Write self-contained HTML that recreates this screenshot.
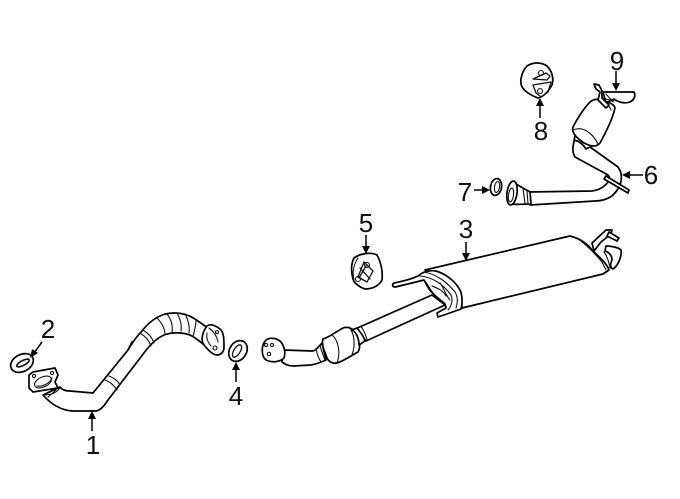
<!DOCTYPE html>
<html>
<head>
<meta charset="utf-8">
<style>
html,body{margin:0;padding:0;background:#fff}
svg{display:block;filter:blur(.3px)}
text{font-family:"Liberation Sans",sans-serif;font-size:26px;fill:#111;text-anchor:middle}
.o{fill:#fff;stroke:#000;stroke-width:1.7;stroke-linejoin:round;stroke-linecap:round}
.t{fill:none;stroke:#111;stroke-width:1.1;stroke-linecap:round;stroke-linejoin:round}
.a{fill:none;stroke:#000;stroke-width:1.5}
.h{fill:#000;stroke:none}
</style>
</head>
<body>
<svg width="680" height="499" viewBox="0 0 680 499" xmlns="http://www.w3.org/2000/svg">
<rect width="680" height="499" fill="#fff"/>

<!-- Part 1 -->
<path class="o" d="M128 350l4-8 4-1 1 4-5 7z"/>
<path class="o" d="M60 387C62 390 65 391 70 391L93 393L128 350C132 343 137 336 142 331C148 323 156 317 165 314C175 312 186 313 195 319L208 328L210 350C204 345 199 340 192 336C184 332 172 332 164 335C157 338 152 343 147 349L108 400C104 406 101 410 96 411L72 411C60 410 50 403 43 395Z"/>
<path class="t" d="M105 380C110 382 114 385 117 390M109 376C114 378 118 381 120 385"/>
<path class="t" d="M140 333C145 336 149 340 151 346M143 330C148 333 152 337 154 343"/>
<path class="t" d="M157 318C162 323 165 329 165 335M167 314C171 319 173 326 172 333M177 313C180 318 182 325 181 331M185 314C188 319 190 327 189 333"/>
<path class="t" d="M196 320C196 326 194 332 193 337"/>
<path class="t" d="M60 387C58 392 52 395 43 395M56 390L48 397"/>
<path class="o" d="M207 326C211 323 216 326 220 329C224 332 224 340 224 347C224 352 221 355 217 355C213 355 208 350 204 345C200 340 203 331 207 326Z"/>
<path class="t" d="M209 328C213 331 217 336 218 342M207 333C206 338 208 343 211 346"/>
<circle class="t" cx="215" cy="348" r="2"/><circle class="t" cx="217" cy="332" r="1.5"/>
<path class="o" d="M29 375L33 372L55 368L58 375L55 382L58 388L33 392L29 388Z"/>
<ellipse class="t" cx="43" cy="382" rx="9" ry="5" transform="rotate(-25 43 382)"/>
<path class="t" d="M37 386C43 387 50 383 52 378"/>
<circle class="t" cx="34" cy="376" r="1.6"/><circle class="t" cx="52" cy="373" r="1.6"/>

<!-- Part 2 gasket -->
<ellipse class="o" cx="22" cy="363" rx="12" ry="8.5" transform="rotate(-28 22 363)"/>
<ellipse class="t" cx="23" cy="363" rx="7" ry="2.4" transform="rotate(-28 23 363)" style="stroke-width:1.6"/>

<!-- Part 4 gasket -->
<ellipse class="o" cx="238" cy="351" rx="8.5" ry="11" transform="rotate(32 238 351)"/>
<ellipse class="t" cx="237" cy="351" rx="3.2" ry="7" transform="rotate(32 237 351)" style="stroke-width:1.3"/>

<!-- Part 3 muffler -->
<path class="o" d="M425 270L570 236C578 238 586 242 592 250C598 256 606 262 609 270L603 274L462 308C462 296 452 282 443 278C436 274 430 272 425 270Z"/>
<path class="t" d="M570 236L577 238C584 243 592 250 602 262L606 270"/>
<path class="o" d="M592 243L606 230L612 230L611 234L601 242L594 251Z"/>
<path class="o" d="M609 232L619 238L617 241L607 236Z"/>
<path class="o" d="M606 246C610 246 618 247 621 250C622 256 618 266 613 269C610 268 610 264 612 260C612 254 608 252 605 251Z"/>
<path class="t" d="M604 252C607 256 609 262 610 268"/>

<!-- Inlet pipe and cat -->
<path class="o" d="M284 350L312 351C316 351 319 346 322 343L326 360C321 362 317 364 311 365L293 366C288 366 285 364 282 362Z"/>
<path class="t" d="M316 349C317 354 319 359 321 362M320 345C321 350 323 355 325 360"/>
<path class="o" d="M266 340C270 337 277 338 281 342C284 346 286 352 284 358C280 362 272 363 266 360C261 356 261 345 266 340Z"/>
<circle class="t" cx="266" cy="345" r="1.6"/><circle class="t" cx="272" cy="345" r="1.6"/><circle class="t" cx="269" cy="354" r="1.7"/>
<path class="o" d="M355 329L432 295L445 305L366 341Z"/>
<path class="o" d="M323 339C330 337 337 331 343 328C348 326 353 329 356 332C360 338 361 347 358 352C352 355 344 361 337 363C333 364 329 362 327 358C325 352 321 345 323 339Z"/>
<path class="t" d="M332 335C338 340 341 352 337 363M349 327C354 333 356 344 352 355"/>
<path class="o" d="M357 328C360 332 364 336 365 341L359 345C359 338 356 332 352 330Z"/>
<path class="t" d="M361 326C364 331 366 335 367 340"/>

<!-- Muffler inlet cap -->
<path class="o" d="M394 283C404 281 412 279 418 276C424 271 430 270 436 271C446 274 455 281 460 290C463 296 462 306 461 309L444 315L438 317L437 313L446 308L445 304C441 300 434 296 429 289L424 280C416 282 404 285 395 287C392 287 392 284 394 283Z"/>
<path class="t" d="M424 272C436 274 447 282 455 292C458 297 458 302 456 308M420 276C432 277 443 284 451 295C453 300 452 305 448 310"/>
<path class="t" d="M424 280C428 284 430 290 434 294M432 286C436 288 442 289 446 296M440 283C444 288 446 296 450 300"/>

<!-- Part 5 mount -->
<path class="o" d="M354 258C361 253 371 252 377 255C381 262 383 272 382 280C379 286 372 289 365 289C359 287 354 283 353 279C351 272 351 263 354 258Z"/>
<path class="t" d="M358 258C354 264 352 272 354 280"/>
<path class="t" d="M364 262L373 271L367 282L358 277ZM360 268L370 279M366 266L359 278" style="stroke-width:1.3"/>
<circle class="t" cx="367" cy="265" r="2.5"/><circle class="t" cx="358" cy="279" r="2.5"/>

<!-- Part 6 -->
<path class="o" d="M528 192L592 191C600 190 605 186 608 182C610 179 610 177 608 175L575 157C572 152 572 146 576 136L590 147L618 167C621 171 622 176 621 181C620 187 617 191 612 196C606 200 600 201 595 201L530 205Z"/>
<path class="o" d="M606 176L629 190L628 193L604 179Z"/>
<path class="o" d="M516 184L530 192L531 204C525 204 517 205 511 204Z"/>
<path class="t" d="M523 188L525 204M527 191L528 204"/>
<ellipse class="o" cx="512" cy="193" rx="5" ry="12" transform="rotate(8 512 193)"/>
<ellipse class="t" cx="511" cy="195" rx="2.5" ry="7" transform="rotate(8 511 195)"/>

<!-- Cat 6 -->
<path class="o" d="M603 92L634 92C636 96 634 100 630 102C624 104 618 102 614 99L606 103Z"/>
<path class="o" d="M576 133C582 131 590 137 592 146L586 149C583 144 579 141 574 140Z"/>
<path class="o" d="M573 127C577 119 584 108 590 102C595 98 600 99 605 101C610 103 614 104 615 108C613 118 606 132 600 143C596 148 590 146 584 143C578 139 571 133 573 127Z"/>
<path class="t" d="M573 130C582 126 592 132 598 144"/>
<path class="t" d="M598 100C604 102 610 106 611 110"/>
<path class="o" d="M594 84L599 85L602 91L602 98L609 105L606 108L598 100L600 92L596 89Z"/>
<path class="t" d="M602 98L614 101M606 94L613 102"/>

<!-- Part 7 gasket -->
<ellipse class="o" cx="496" cy="187" rx="5.5" ry="8.5" transform="rotate(10 496 187)"/>
<ellipse class="t" cx="497" cy="187" rx="2.5" ry="5.5" transform="rotate(10 497 187)"/>

<!-- Part 8 mount -->
<path class="o" d="M527 66C533 62 541 62 547 66C552 71 554 78 552 85C548 92 543 97 538 98C530 95 522 90 521 84C520 78 523 70 527 66Z"/>
<path class="t" d="M533 79L546 73L550 76L547 80ZM533 85L551 82L548 92L541 97L536 93Z" style="stroke-width:1.3"/>
<circle class="t" cx="541" cy="73" r="2.5"/><circle class="t" cx="540" cy="91" r="2.5"/>

<!-- Leaders -->
<line class="a" x1="92" y1="431" x2="92" y2="416"/><path class="h" d="M92 411l-4 8h8z"/>
<line class="a" x1="42" y1="342" x2="34" y2="353"/><path class="h" d="M30 358l2-9 6 4z"/>
<line class="a" x1="236" y1="382" x2="236" y2="367"/><path class="h" d="M236 362l-4 8h8z"/>
<line class="a" x1="366" y1="235" x2="366" y2="249"/><path class="h" d="M366 254l-4-8h8z"/>
<line class="a" x1="466" y1="242" x2="466" y2="256"/><path class="h" d="M466 261l-4-8h8z"/>
<line class="a" x1="616" y1="71" x2="616" y2="86"/><path class="h" d="M616 91l-4-8h8z"/>
<line class="a" x1="540" y1="118" x2="540" y2="103"/><path class="h" d="M540 98l-4 8h8z"/>
<line class="a" x1="643" y1="175" x2="627" y2="175"/><path class="h" d="M622 175l8-4v8z"/>
<line class="a" x1="474" y1="190" x2="485" y2="190"/><path class="h" d="M490 190l-8-4v8z"/>

<!-- Labels -->
<text x="93" y="454">1</text>
<text x="48" y="338">2</text>
<text x="466" y="238">3</text>
<text x="236" y="405">4</text>
<text x="366" y="232">5</text>
<text x="651" y="184">6</text>
<text x="465" y="201">7</text>
<text x="541" y="140">8</text>
<text x="617" y="70">9</text>
</svg>
</body>
</html>
